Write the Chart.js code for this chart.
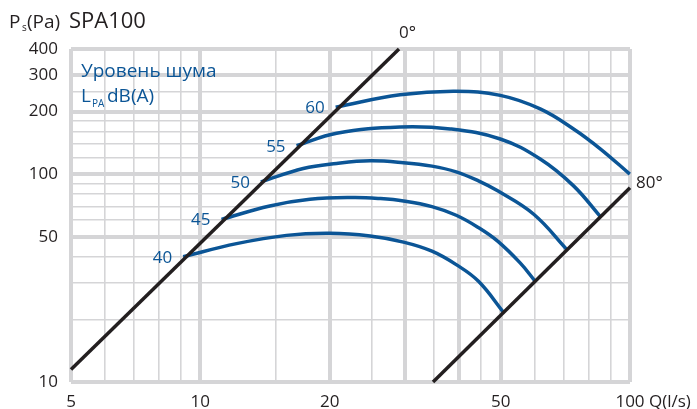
<!DOCTYPE html>
<html>
<head>
<meta charset="utf-8">
<script src="https://cdn.jsdelivr.net/npm/chart.js@4"></script>
<style>
  html, body { margin: 0; padding: 0; background: #fff; }
  #wrap { width: 697px; height: 409px; position: relative; }
</style>
</head>
<body>
<div id="wrap"><canvas id="myChart"></canvas></div>
<script>
// axis ticks (gridlines) and which of them get a label
const xTicks = [5, 6, 7, 8, 9, 10, 15, 20, 25, 30, 35, 40, 45, 50, 60, 70, 80, 90, 100];
const xLabels = [5, 10, 20, 50, 100];
const xThick = [5, 10, 20, 30, 40, 50, 100];
const yTicks = [10, 20, 30, 40, 50, 60, 70, 80, 90, 100, 120, 140, 160, 180, 200, 250, 300, 400];
const yLabels = [10, 50, 100, 200, 300, 400];
const yThick = [10, 50, 100, 200, 300, 400];

// system lines 0° and 80°
const q0 = [5, 29];
const p0 = [11.5, 400];
const q80 = [34.8, 100];
const p80 = [10, 86];

// noise level curves, LpA dB(A)
const levels = ['40', '45', '50', '55', '60'];
const q40 = [9.12, 12.14, 15.87, 20.03, 24.83, 29.7, 34.6, 39.4, 44.4, 50.8];
const p40 = [40.05, 46.3, 50.75, 51.9, 50.35, 47.1, 42.6, 36.7, 30.5, 21.6];
const q45 = [11.2, 14.51, 17.99, 22.7, 26.2, 29.7, 34.6, 39.4, 44.4, 49.2, 55.5, 60.2];
const p45 = [60.6, 70.3, 75.7, 77.2, 76.3, 74.3, 69.8, 63.4, 55.3, 47.6, 37.4, 30.5];
const q50 = [13.83, 17.36, 20.76, 24.83, 29.7, 34.6, 39.4, 44.4, 49.2, 59.7, 71.4];
const p50 = [91.8, 106.5, 112.6, 115.9, 113.6, 109.3, 102.6, 92.8, 83.1, 64.1, 43.2];
const q55 = [16.75, 20.76, 29.17, 38.15, 49.9, 61.8, 73.9, 85.4];
const p55 = [137, 157.3, 168.7, 165, 147.6, 118.2, 87.8, 62.3];
const q60 = [20.65, 29.17, 39.2, 49.9, 61.8, 73.9, 85.4, 99.9];
const p60 = [210.1, 240.7, 250.3, 239.4, 206.1, 165, 132.1, 100];

const BLUE = '#0b5596';
const BLACK = '#231f20';
const GRID = '#d5d5d7';
const FONT = '"Open Sans", sans-serif';

function pts(q, p) {
  return q.map((v, i) => ({ x: v, y: p[i] }));
}

const curves = [[q40, p40], [q45, p45], [q50, p50], [q55, p55], [q60, p60]];

const datasets = [
  { data: pts(q0, p0), borderColor: BLACK, borderWidth: 3.5, pointRadius: 0, clip: false },
  { data: pts(q80, p80), borderColor: BLACK, borderWidth: 3.5, pointRadius: 0, clip: false },
];
curves.forEach(c => {
  datasets.push({
    data: pts(c[0], c[1]),
    borderColor: BLUE,
    borderWidth: 3.5,
    pointRadius: 0,
    tension: 0.4,
    borderCapStyle: 'butt',
    clip: false,
  });
});

// texts drawn on top of the chart
const textPlugin = {
  id: 'texts',
  afterDraw(chart) {
    const ctx = chart.ctx;
    const x = chart.scales.x;
    const y = chart.scales.y;
    ctx.save();
    ctx.textBaseline = 'alphabetic';

    // title
    ctx.fillStyle = BLACK;
    ctx.textAlign = 'left';
    ctx.font = '19px ' + FONT;
    ctx.fillText('P', 9, 28);
    ctx.font = '10px ' + FONT;
    ctx.fillText('s', 22, 31);
    ctx.font = '19px ' + FONT;
    ctx.fillText('(Pa)', 27, 28);
    ctx.font = '22px ' + FONT;
    ctx.fillText('SPA100', 69, 28);

    // axis unit after the 100 tick
    ctx.font = '17px ' + FONT;
    ctx.fillText('Q(l/s)', 649, 407);

    // legend text
    ctx.fillStyle = BLUE;
    ctx.font = '19px ' + FONT;
    ctx.fillText('Уровень шума', 81, 77);
    ctx.fillText('L', 81, 102);
    ctx.font = '10px ' + FONT;
    ctx.fillText('PA', 92, 107);
    ctx.font = '19px ' + FONT;
    ctx.fillText('dB(A)', 107, 102);

    // level labels at start of each curve
    ctx.font = '17px ' + FONT;
    ctx.textAlign = 'right';
    ctx.textBaseline = 'middle';
    curves.forEach((c, i) => {
      const px = x.getPixelForValue(c[0][0]);
      const py = y.getPixelForValue(c[1][0]);
      ctx.fillText(levels[i], px - 11, py + 1);
    });

    // angle labels
    ctx.fillStyle = BLACK;
    ctx.textAlign = 'left';
    ctx.fillText('0°', x.getPixelForValue(q0[1]), y.getPixelForValue(p0[1]) - 16);
    ctx.fillText('80°', x.getPixelForValue(q80[1]) + 6, y.getPixelForValue(p80[1]) - 5);
    ctx.restore();
  }
};

new Chart(document.getElementById('myChart'), {
  type: 'line',
  data: { datasets: datasets },
  options: {
    responsive: true,
    maintainAspectRatio: false,
    animation: false,
    layout: { padding: { top: 49, right: 67, left: 0, bottom: 0 } },
    plugins: { legend: { display: false }, tooltip: { enabled: false } },
    scales: {
      x: {
        type: 'logarithmic',
        min: 5,
        max: 100,
        afterBuildTicks: s => { s.ticks = xTicks.map(v => ({ value: v })); },
        afterFit: s => { s.height = 27; },
        border: { display: false },
        grid: {
          drawTicks: false,
          color: GRID,
          lineWidth: c => (c.tick && xThick.includes(c.tick.value) ? 4 : 1.6),
        },
        ticks: {
          autoSkip: false,
          maxRotation: 0,
          padding: 10,
          color: BLACK,
          font: { family: FONT, size: 17 },
          callback: v => (xLabels.includes(v) ? String(v) : ''),
        },
      },
      y: {
        type: 'logarithmic',
        min: 10,
        max: 400,
        afterBuildTicks: s => { s.ticks = yTicks.map(v => ({ value: v })); },
        afterFit: s => { s.width = 71; },
        border: { display: false },
        grid: {
          drawTicks: false,
          color: GRID,
          lineWidth: c => (c.tick && yThick.includes(c.tick.value) ? 4 : 1.6),
        },
        ticks: {
          autoSkip: false,
          padding: 13,
          color: BLACK,
          font: { family: FONT, size: 17 },
          callback: v => (yLabels.includes(v) ? String(v) : ''),
        },
      },
    },
  },
  plugins: [textPlugin],
});
</script>
</body>
</html>
